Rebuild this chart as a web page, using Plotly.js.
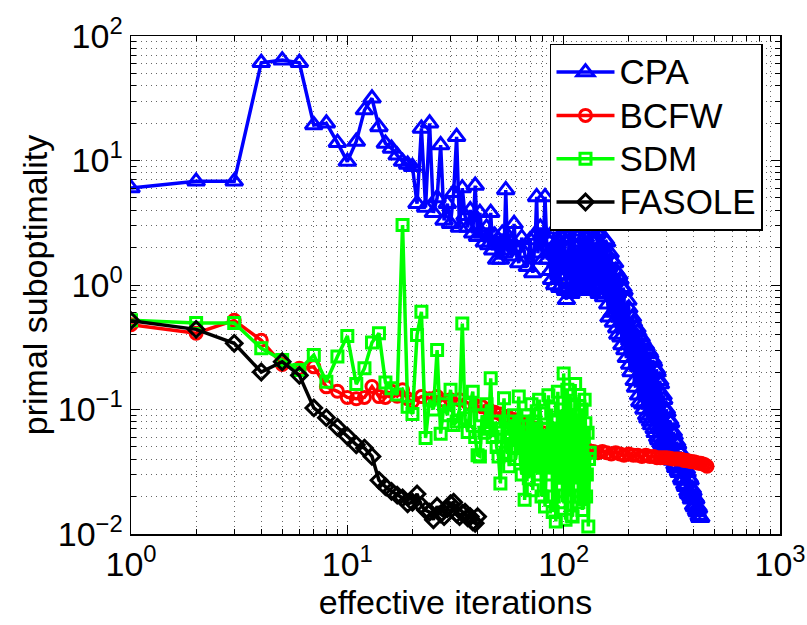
<!DOCTYPE html>
<html>
<head>
<meta charset="utf-8">
<script src="https://cdn.plot.ly/plotly-3.0.1.min.js"></script>
<style>html,body{margin:0;padding:0;background:#fff;}#chart{width:807px;height:625px;}</style>
</head>
<body>
<div id="chart"></div>
<script>
// ---- data: [effective iteration, primal suboptimality] ----
const seriesNames = ['CPA', 'BCFW', 'SDM', 'FASOLE'];

const cpaPoints = [[1,6.0],[2,6.8],[3,6.8],[4,61],[5,64],[6,61],[7,19.3],[8,19.9],[9,13.9],[10,9.8],
  [11,14.2],[12,25.4],[13,31.6],[14,18.6],[15,13.7],[16,12.5],[17,11.0],[18,9.8],[19,9.3],[20,8.9],
  [21,4.5],[22,18.1],[23,4.2],[24,19.9],[25,3.8],[26,5.0],[27,13.3],[28,3.3],[29,4.5],[30,3.1],
  [31,5.5],[32,15.5],[33,2.9],[34,6.0],[35,3.6],[36,2.9],[37,4.0],[38,2.6],[39,6.3],[40,2.44],
  [41,3.8],[42,2.6],[43,2.2],[44,2.9],[45,2.1],[46,3.8],[47,1.9],[48,2.5],[49,1.6],[50,2.3],
  [51,1.6],[52,2.6],[53,1.8],[54,5.8],[55,1.9],[56,2.4],[57,2.2],[58,1.7],[59,3.1],[60,2.0],
  [62,1.5],[64,2.4],[66,1.8],[68,1.4],[70,2.3],[72,1.25],[74,2.5],[75,5.1],[76,1.8],[78,2.9],
  [80,1.6],[82,5.1],[84,1.6],[86,2.2],[87,1.3],[88,1.1],[89,2.0],[90,2.6],[91,1.0],[92,1.5],
  [93,2.8],[94,3.0],[95,1.2],[96,0.95],[97,1.8],[98,2.4],[99,1.4],[100,1.2],[101,2.6],[102,0.9],
  [103,0.76],[104,1.9],[105,1.1],[106,2.9],[107,1.6],[108,0.85],[109,1.3],[110,2.7],[111,1.0],[112,3.0],
  [113,1.4],[114,2.0],[115,0.9],[116,1.7],[117,1.1],[118,2.5],[119,1.0],[120,2.2],[121,1.1],[122,1.8],
  [123,0.95],[124,3.0],[125,1.3],[126,2.4],[127,1.0],[128,1.9],[129,1.2],[130,2.8],[132,0.95],[133,1.4],
  [134,2.3],[136,0.9],[137,1.8],[139,2.2],[140,1.0],[142,1.2],[143,2.6],[145,2.7],[146,0.85],[148,0.95],
  [149,2.0],[151,2.0],[153,0.8],[155,1.1],[156,2.3],[158,2.2],[160,0.7],[162,0.55],[164,1.8],[166,1.6],
  [168,0.6],[170,0.5],[172,1.5],[174,1.3],[176,0.45],[178,0.4],[180,1.2],[182,1.1],[184,0.38],[186,0.33],
  [188,0.95],[190,0.9],[192,0.3],[195,0.26],[198,0.75],[200,0.65],[202,0.23],[205,0.2],[208,0.55],[210,0.5],
  [212,0.17],[215,0.15],[218,0.45],[220,0.42],[222,0.13],[225,0.115],[228,0.38],[230,0.36],[232,0.11],[235,0.1],
  [238,0.33],[240,0.32],[242,0.09],[245,0.085],[248,0.29],[250,0.28],[252,0.08],[255,0.075],[258,0.25],[260,0.24],
  [262,0.07],[265,0.065],[268,0.21],[270,0.2],[272,0.06],[275,0.057],[278,0.17],[280,0.16],[282,0.054],[285,0.052],
  [288,0.13],[290,0.12],[292,0.05],[295,0.048],[298,0.1],[300,0.095],[303,0.045],[306,0.043],[309,0.082],[312,0.078],
  [315,0.041],[318,0.039],[321,0.066],[324,0.062],[327,0.036],[330,0.034],[333,0.055],[336,0.052],[339,0.032],[342,0.031],
  [345,0.046],[348,0.044],[351,0.028],[354,0.027],[357,0.038],[360,0.036],[363,0.025],[366,0.024],[369,0.033],[372,0.031],
  [375,0.022],[378,0.021],[381,0.028],[384,0.027],[387,0.02],[390,0.019],[393,0.023],[396,0.022],[399,0.017],[402,0.0165],
  [405,0.0195],[408,0.019],[411,0.0155],[414,0.015],[417,0.0165],[420,0.016],[423,0.014],[426,0.0135],[430,0.0135]];

const bcfwPoints = [[1,0.48],[2,0.41],[3,0.52],[4,0.36],[5,0.23],[6,0.214],[7,0.22],[8,0.152],[9,0.14],[10,0.125],
  [11,0.122],[12,0.125],[13,0.153],[14,0.127],[15,0.125],[16,0.14],[17,0.128],[18,0.144],[19,0.122],[20,0.116],
  [22,0.127],[24,0.122],[26,0.127],[28,0.118],[30,0.12],[33,0.12],[36,0.113],[39,0.108],[42,0.105],[45,0.1],
  [48,0.095],[51,0.092],[55,0.088],[59,0.083],[63,0.079],[67,0.076],[71,0.072],[75,0.069],[80,0.065],[85,0.062],
  [90,0.06],[95,0.058],[100,0.056],[106,0.054],[112,0.053],[118,0.05],[124,0.048],[130,0.047],[137,0.046],[144,0.045],
  [151,0.046],[158,0.045],[166,0.044],[174,0.045],[182,0.044],[190,0.043],[200,0.044],[210,0.043],[220,0.043],[230,0.042],
  [240,0.043],[250,0.042],[260,0.042],[270,0.041],[280,0.041],[290,0.041],[300,0.041],[310,0.0405],[320,0.04],[330,0.04],
  [340,0.04],[350,0.0398],[360,0.039],[370,0.039],[380,0.0385],[390,0.038],[400,0.038],[410,0.0375],[420,0.037],[430,0.037],
  [440,0.0365],[450,0.036],[460,0.035]];

const sdmPoints = [[1,0.52],[2,0.495],[3,0.495],[4,0.31],[5,0.25],[6,0.208],[7,0.274],[8,0.167],[9,0.266],[10,0.39],
  [11,0.16],[12,0.214],[13,0.345],[14,0.41],[15,0.165],[16,0.148],[17,0.132],[18,3.03],[19,0.105],[20,0.092],
  [21,0.397],[22,0.61],[23,0.059],[24,0.12],[25,0.1],[26,0.30],[27,0.064],[28,0.11],[29,0.09],[30,0.144],
  [31,0.075],[32,0.08],[33,0.1],[34,0.49],[35,0.085],[36,0.066],[37,0.11],[38,0.139],[39,0.06],[40,0.043],
  [41,0.042],[42,0.09],[43,0.065],[44,0.11],[45,0.07],[46,0.178],[47,0.06],[48,0.08],[49,0.05],[50,0.042],
  [51,0.0255],[52,0.07],[53,0.123],[54,0.045],[55,0.06],[56,0.035],[57,0.08],[58,0.05],[59,0.09],[60,0.04],
  [61,0.05],[62,0.127],[63,0.04],[64,0.03],[65,0.08],[66,0.0188],[67,0.05],[68,0.09],[69,0.028],[70,0.035],
  [71,0.11],[72,0.0225],[73,0.06],[74,0.08],[75,0.04],[76,0.03],[77,0.12],[78,0.093],[79,0.02],[80,0.045],
  [81,0.07],[82,0.0166],[83,0.035],[84,0.07],[85,0.13],[86,0.03],[87,0.05],[88,0.102],[89,0.015],[90,0.02],
  [91,0.08],[92,0.0126],[93,0.04],[94,0.139],[95,0.03],[96,0.025],[97,0.1],[98,0.06],[99,0.018],[100,0.195],
  [101,0.05],[102,0.013],[103,0.07],[104,0.144],[105,0.025],[106,0.02],[107,0.13],[108,0.11],[109,0.014],[110,0.0138],
  [111,0.06],[112,0.05],[113,0.16],[114,0.025],[115,0.04],[116,0.09],[117,0.018],[118,0.131],[119,0.05],[120,0.02],
  [121,0.1],[122,0.0156],[123,0.035],[124,0.06],[125,0.12],[126,0.0774],[127,0.02],[128,0.03],[129,0.065],[130,0.0115],
  [131,0.04],[132,0.045]];

const fasolePoints = [[1,0.517],[2,0.44],[3,0.34],[4,0.2],[5,0.242],[6,0.188],[7,0.103],[8,0.086],[9,0.072],[10,0.061],
  [11,0.052],[12,0.049],[13,0.042],[14,0.027],[15,0.024],[16,0.022],[17,0.0205],[18,0.0195],[19,0.0175],[20,0.018],
  [21,0.021],[22,0.017],[23,0.0155],[24,0.015],[25,0.013],[26,0.0167],[27,0.0145],[28,0.0138],[29,0.016],[30,0.0175],
  [31,0.018],[32,0.0145],[33,0.0138],[34,0.0147],[35,0.015],[36,0.0135],[37,0.0138],[38,0.0125],[39,0.0122],[40,0.0138]];

const xTickVals = [1, 10, 100, 1000];
const xTickText = ['10<sup>0</sup>', '10<sup>1</sup>', '10<sup>2</sup>', '10<sup>3</sup>'];
const yTickVals = [0.01, 0.1, 1, 10, 100];
const yTickText = ['10<sup>\u22122</sup>', '10<sup>\u22121</sup>', '10<sup>0</sup>', '10<sup>1</sup>', '10<sup>2</sup>'];

// ---- traces ----
const FONT = 'Liberation Sans, Arial, Helvetica, sans-serif';
function tr(points, name, color, symbol, size) {
  return {
    x: points.map(p => p[0]), y: points.map(p => p[1]),
    name: '<span style="font-size:35px">' + name + '</span>',
    type: 'scatter', mode: 'lines+markers',
    line: {color: color, width: 3.5},
    marker: {symbol: symbol, size: size, color: color, line: {color: color, width: 3}}
  };
}
const data = [
  tr(cpaPoints, seriesNames[0], '#0000ff', 'triangle-up-open', 15),
  tr(bcfwPoints, seriesNames[1], '#ff0000', 'circle-open', 12),
  tr(sdmPoints, seriesNames[2], '#00ff00', 'square-open', 11),
  tr(fasolePoints, seriesNames[3], '#000000', 'diamond-open', 12)
];

const axisCommon = {
  type: 'log', ticks: 'inside', ticklen: 9, tickwidth: 1, tickcolor: '#000',
  mirror: 'allticks', showline: true, linecolor: '#000', linewidth: 1.5,
  showgrid: true, gridcolor: '#666', griddash: '1px,4px', gridwidth: 1, zeroline: false,
  tickfont: {family: FONT, size: 34, color: '#000'},
  minor: {dtick: 'D1', ticks: 'inside', ticklen: 5, tickcolor: '#000', showgrid: true, gridcolor: '#666', griddash: '1px,4px', gridwidth: 1}
};

const layout = {
  width: 807, height: 625,
  margin: {l: 131, r: 27, t: 36, b: 91},
  paper_bgcolor: '#fff', plot_bgcolor: '#fff',
  font: {family: FONT, color: '#000'},
  showlegend: true,
  xaxis: Object.assign({}, axisCommon, {
    range: [0, 3], tickmode: 'array', tickvals: xTickVals, ticktext: xTickText,
    title: {text: 'effective iterations', font: {family: FONT, size: 34, color: '#000'}, standoff: 0}
  }),
  yaxis: Object.assign({}, axisCommon, {
    range: [-2, 2], tickmode: 'array', tickvals: yTickVals, ticktext: yTickText,
    title: {text: 'primal suboptimality', font: {family: FONT, size: 34, color: '#000'}, standoff: 0}
  }),
  legend: {
    x: 0.6456, y: 0.984, xanchor: 'left', yanchor: 'top',
    bgcolor: '#fff', bordercolor: '#000', borderwidth: 1.5,
    font: {family: FONT, size: 31, color: '#000'}, itemwidth: 58
  }
};

Plotly.newPlot('chart', data, layout, {displayModeBar: false, staticPlot: true});
</script>
</body>
</html>
